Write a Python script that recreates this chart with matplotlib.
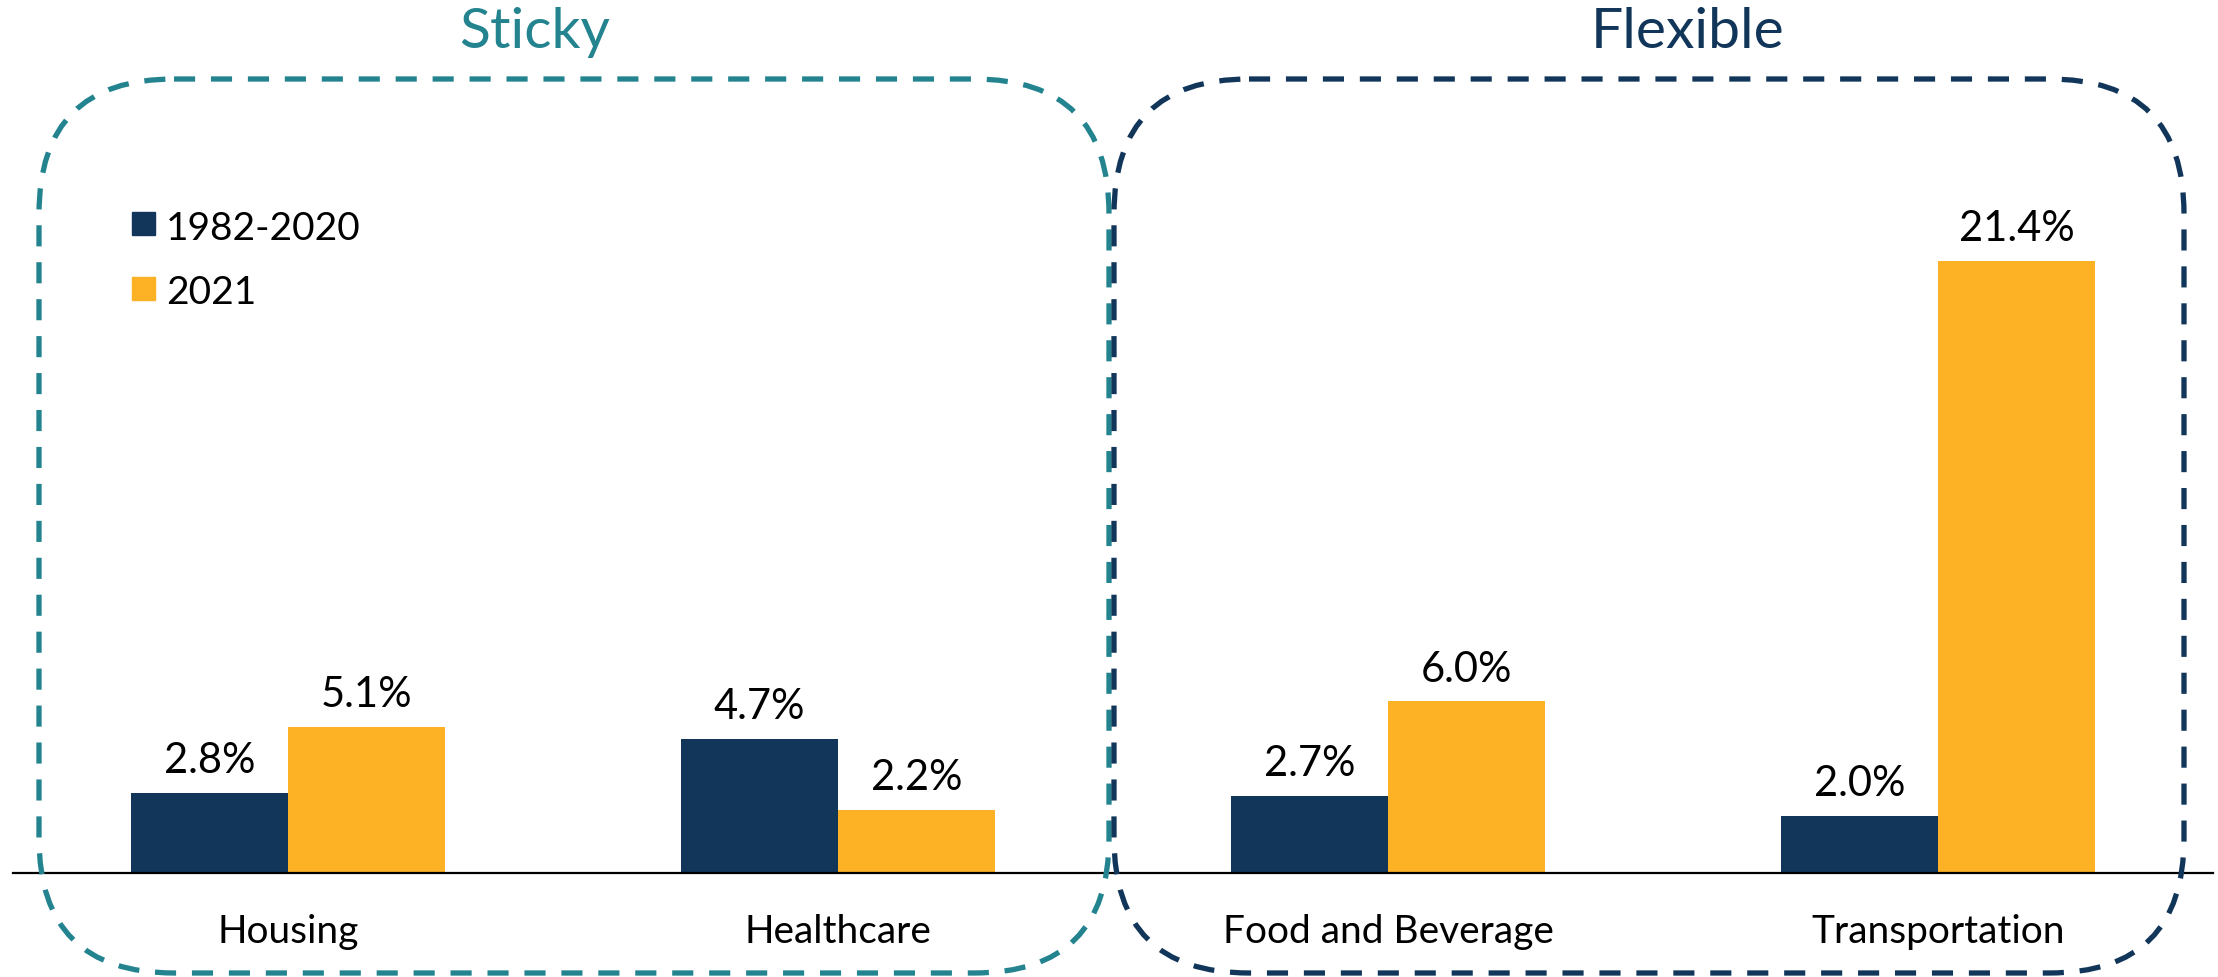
import numpy as np
import matplotlib
matplotlib.use("Agg")
import matplotlib.pyplot as plt
from matplotlib.patches import FancyBboxPatch, Rectangle

plt.rcParams['font.family'] = ['Lato', 'DejaVu Sans']

# data
categories = ["Housing", "Healthcare", "Food and Beverage", "Transportation"]
series_names = ["1982-2020", "2021"]
avg_1982_2020 = [2.8, 4.7, 2.7, 2.0]
val_2021 = [5.1, 2.2, 6.0, 21.4]
groups = ["Sticky", "Flexible"]

navy = "#11365a"
orange = "#fdb124"
teal = "#23838f"

W, H = 2218, 978
fig = plt.figure(figsize=(W / 100, H / 100), dpi=100)

# main bar axes
ax = fig.add_axes([13 / W, 104 / H, 2200 / W, 715 / H])
x = np.arange(len(categories))
bw = 0.2855
b1 = ax.bar(x - bw / 2, avg_1982_2020, bw, color=navy)
b2 = ax.bar(x + bw / 2, val_2021, bw, color=orange)
ax.set_xlim(-0.5, 3.5)
ax.set_ylim(0, 25)
for s in ["top", "right", "left"]:
    ax.spines[s].set_visible(False)
ax.spines["bottom"].set_linewidth(1.6)
ax.spines["bottom"].set_color("black")
ax.set_xticks([])
ax.set_yticks([])
ax.patch.set_alpha(0)

for bars, vals in [(b1, avg_1982_2020), (b2, val_2021)]:
    for r, v in zip(bars, vals):
        ax.annotate(f"{v:.1f}%", (r.get_x() + r.get_width() / 2, v),
                    xytext=(0, 15), textcoords="offset points",
                    ha="center", va="baseline", fontsize=30)

for xi, c in zip(x, categories):
    ax.annotate(c, (xi, 0), xytext=(0, -49.5), textcoords="offset points",
                ha="center", va="baseline", fontsize=28)

# overlay in pixel coords for boxes, titles, legend
ov = fig.add_axes([0, 0, 1, 1])
ov.set_xlim(0, W)
ov.set_ylim(H, 0)
ov.axis("off")
ov.patch.set_alpha(0)

boxes = [(39, 80, 1070, 894, teal), (1114, 80, 1070, 894, navy)]
for bx, by, bwid, bh, col in boxes:
    p = FancyBboxPatch((bx, by), bwid, bh, boxstyle="round,pad=0,rounding_size=135",
                       fill=False, edgecolor=col, linewidth=3.8,
                       linestyle=(0, (4.0, 3.0)), clip_on=False)
    ov.add_patch(p)

ov.text(535, 33, groups[0], color=teal, fontsize=41, ha="center", va="center")
ov.text(1688, 33, groups[1], color=navy, fontsize=41, ha="center", va="center")

# legend
for i, (name, col) in enumerate(zip(series_names, [navy, orange])):
    y0 = 213 + i * 65
    ov.add_patch(Rectangle((132, y0), 23, 23, color=col))
    ov.text(166, y0 + 12, name, fontsize=28, ha="left", va="center_baseline")

fig.savefig("out.png", dpi=100)
